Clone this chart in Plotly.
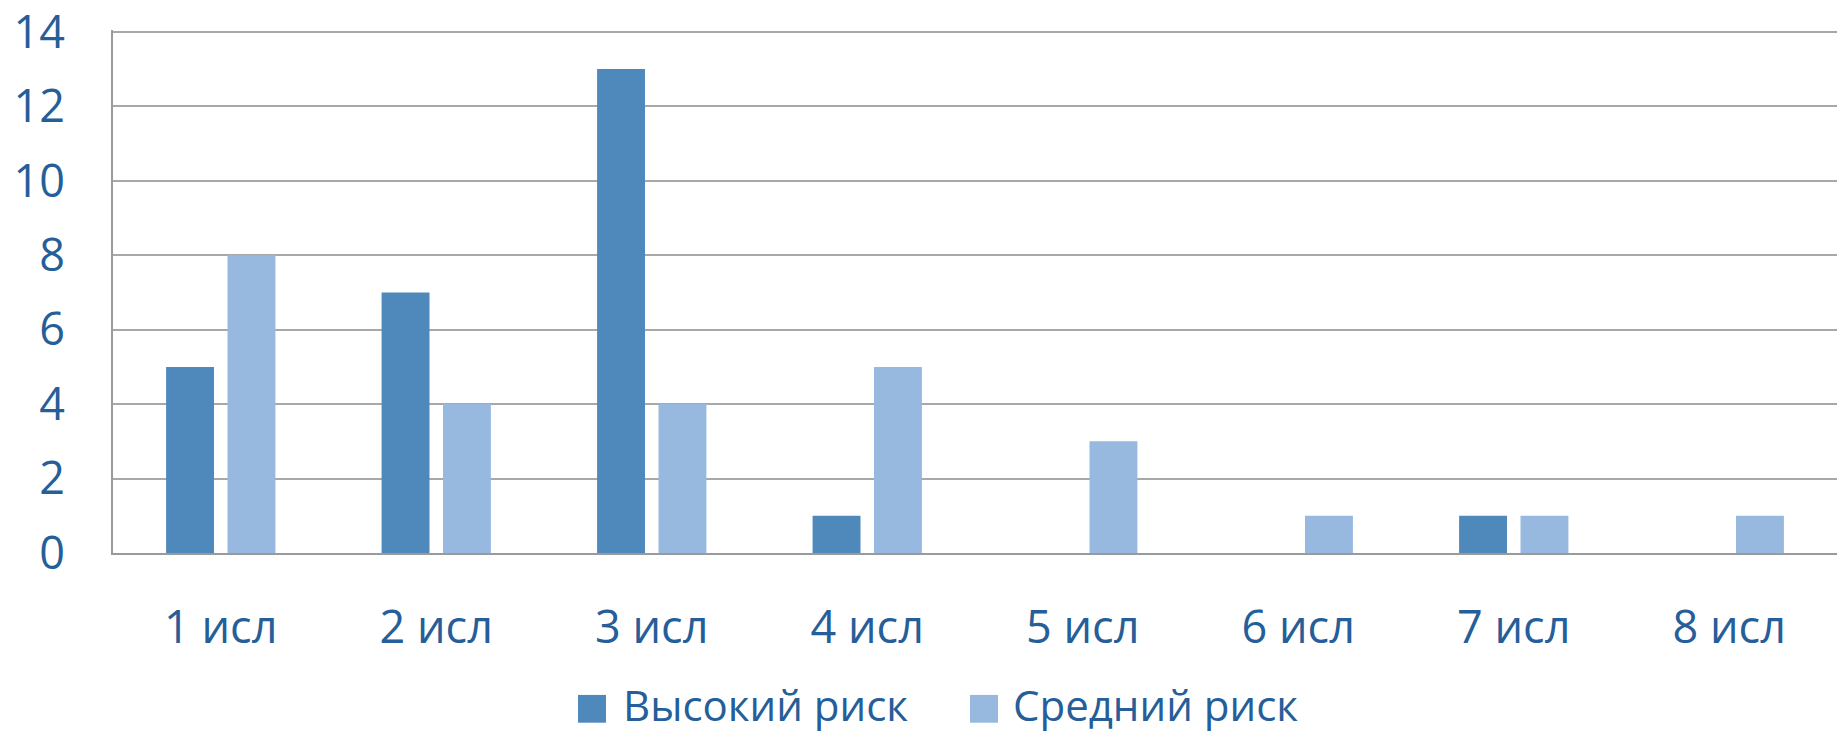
import plotly.graph_objects as go

categories = ["1 исл", "2 исл", "3 исл", "4 исл", "5 исл", "6 исл", "7 исл", "8 исл"]
series_names = ["Высокий риск", "Средний риск"]
high_risk = [5, 7, 13, 1, 0, 0, 1, 0]
medium_risk = [8, 4, 4, 5, 3, 1, 1, 1]
y_ticks = [0, 2, 4, 6, 8, 10, 12, 14]

colors = ["#4F89BC", "#98B9DF"]
text_color = "#255E98"
font_family = "Open Sans, Noto Sans, sans-serif"

W, H = 1837, 735
L, R, T, B = 113, 0, 26, 182

fig = go.Figure()
for name, vals, col in zip(series_names, [high_risk, medium_risk], colors):
    fig.add_trace(go.Bar(x=categories, y=vals, name=name, marker=dict(color=col, line=dict(width=0)),
                         showlegend=False))

# manual legend (larger squares like the reference)
pw, ph = W - L - R, H - T - B
def px_x(p):
    return (p - L) / pw
def px_y(p):
    return (H - B - p) / ph

legend_items = [(578, 621), (970, 1011)]
shapes = []
annotations = []
for (sx, tx), name, col in zip(legend_items, series_names, colors):
    shapes.append(dict(type="rect", xref="paper", yref="paper",
                       x0=px_x(sx), x1=px_x(sx + 28), y0=px_y(724), y1=px_y(696),
                       fillcolor=col, line=dict(width=0)))
    annotations.append(dict(xref="paper", yref="paper", x=px_x(tx), y=px_y(706),
                            xanchor="left", yanchor="middle", showarrow=False,
                            text=name, font=dict(family=font_family, size=42, color=text_color)))

fig.update_layout(
    width=W, height=H,
    margin=dict(l=L, r=R, t=T, b=B, pad=0),
    paper_bgcolor="white", plot_bgcolor="white",
    barmode="group", bargap=0.43, bargroupgap=0.22,
    shapes=shapes, annotations=annotations,
    font=dict(family=font_family, color=text_color, size=44),
)
fig.update_xaxes(showline=True, linecolor="#9A9A9A", linewidth=2, showgrid=False,
                 ticks="", ticklabelstandoff=34,
                 tickfont=dict(size=45, color=text_color, family=font_family))
fig.update_yaxes(range=[0, 14.05], tickvals=y_ticks, showline=True, linecolor="#9A9A9A", linewidth=2,
                 showgrid=True, gridcolor="#A8A8A8", gridwidth=2, zeroline=False,
                 ticks="", ticklabelstandoff=37, ticklabeloverflow="allow",
                 tickfont=dict(size=45, color=text_color, family=font_family))

fig.write_html("out.html")
